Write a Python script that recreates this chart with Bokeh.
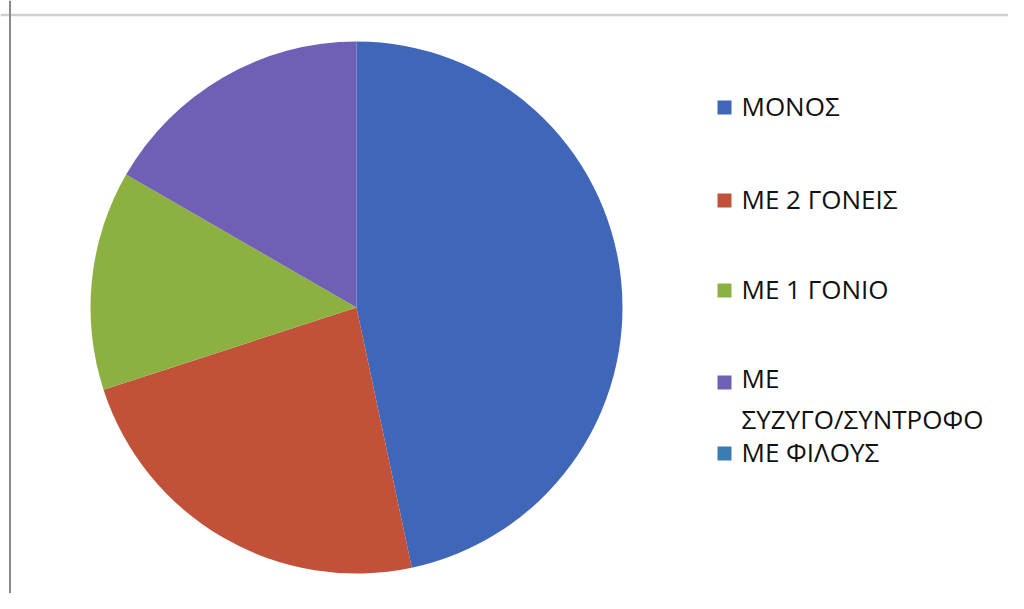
import numpy as np
from bokeh.plotting import figure
from bokeh.models import Range1d, Span, ColumnDataSource
from bokeh.core.properties import value
from bokeh.embed import file_html
from bokeh.resources import INLINE

# Data
categories = ["ΜΟΝΟΣ", "ΜΕ 2 ΓΟΝΕΙΣ", "ΜΕ 1 ΓΟΝΙΟ", "ΜΕ ΣΥΖΥΓΟ/ΣΥΝΤΡΟΦΟ", "ΜΕ ΦΙΛΟΥΣ"]
legend_labels = ["ΜΟΝΟΣ", "ΜΕ 2 ΓΟΝΕΙΣ", "ΜΕ 1 ΓΟΝΙΟ", "ΜΕ\nΣΥΖΥΓΟ/ΣΥΝΤΡΟΦΟ", "ΜΕ ΦΙΛΟΥΣ"]
counts = [14, 7, 4, 5, 0]
colors = ["#3F66B8", "#C2513A", "#8DB141", "#6F5FB5", "#3A7DB5"]

# Layout (pixel-space figure, y measured from top)
W, H = 1008, 593
CX, CY_TOP, R = 356, 307, 266
legend_text_cy = [105, 198, 288, 398, 451]   # centre of each legend text block
legend_sq_cy = [107, 200, 290, 382, 453]     # centre of each legend square
LEG_SQ_X = 724
LEG_TXT_X = 741

vals = np.array(counts, dtype=float)
frac = vals / vals.sum()
cum = np.concatenate([[0], np.cumsum(frac)])
start = np.pi / 2 - 2 * np.pi * cum[:-1]
end = np.pi / 2 - 2 * np.pi * cum[1:]
nz = vals > 0

p = figure(width=W, height=H, output_backend="svg", toolbar_location=None,
           x_range=Range1d(0, W), y_range=Range1d(0, H),
           min_border=0, min_border_left=0, min_border_right=0,
           min_border_top=0, min_border_bottom=0)
p.axis.visible = False
p.grid.visible = False
p.outline_line_color = None
p.background_fill_color = "white"
p.border_fill_color = "white"

src = ColumnDataSource(dict(start=start[nz], end=end[nz],
                            color=[c for c, k in zip(colors, nz) if k],
                            cat=[c for c, k in zip(categories, nz) if k]))
p.wedge(x=CX, y=H - CY_TOP, radius=R, start_angle="start", end_angle="end",
        direction="clock", fill_color="color", line_color=None, source=src)

# Frame lines
p.add_layout(Span(location=H - 14.5, dimension="width", line_color="#cfcfcf", line_width=2.5))
p.add_layout(Span(location=9.5, dimension="height", line_color="#8a8a8a", line_width=2))

# Legend
lsrc = ColumnDataSource(dict(x=[LEG_SQ_X] * 5, sy=[H - v for v in legend_sq_cy],
                             ty=[H - v for v in legend_text_cy], tx=[LEG_TXT_X] * 5,
                             color=colors, label=legend_labels))
p.rect(x="x", y="sy", width=14, height=14, fill_color="color", line_color=None, source=lsrc)
p.text(x="tx", y="ty", text="label", source=lsrc, text_font=value("Open Sans"),
       text_font_size="26px", text_color="#111111", text_baseline="middle",
       text_align="left", text_line_height=1.15)

open("out.html", "w").write(file_html(p, INLINE))
